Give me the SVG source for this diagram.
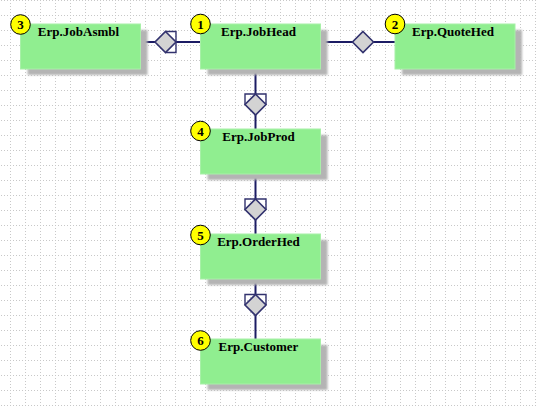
<svg xmlns="http://www.w3.org/2000/svg" width="536" height="407" viewBox="0 0 536 407">
<style>
.bg{fill:#ffffff}
.box{fill:#90ee90;stroke:#a8f0a8;stroke-width:1}
.shadow{fill:#b4b4b4;filter:url(#blur)}
.title{font-family:"Liberation Serif",serif;font-weight:bold;font-size:13px;fill:#000;text-anchor:middle}
.badge{fill:#ffff00;stroke:#000;stroke-width:1}
.num{font-family:"Liberation Serif",serif;font-weight:bold;font-size:13px;fill:#000;text-anchor:middle}
.line{stroke:#1c1c64;stroke-width:2;fill:none}
.dia{fill:#d3d3d3;stroke:#32326e;stroke-width:1.6}
.brk{fill:none;stroke:#32326e;stroke-width:1.4}
</style>
<defs>
<pattern id="grid" patternUnits="userSpaceOnUse" x="10" y="0" width="15" height="15">
<path d="M0 0.5H15M0.5 0V15" stroke="#c8c8c8" stroke-width="1" stroke-dasharray="1 2" fill="none"/>
</pattern>
<filter id="blur" x="-10%" y="-10%" width="120%" height="130%"><feGaussianBlur stdDeviation="1.2"/></filter>
</defs>
<rect class="bg" x="0" y="0" width="536" height="407"/>
<rect x="0" y="0" width="536" height="407" fill="url(#grid)"/>

<g id="connectors">
<line class="line" x1="141" y1="42" x2="200" y2="42"/>
<path class="brk" d="M165.5 31.5H176V52.5H165.5"/>
<path class="dia" d="M165.5 31.5L176 42L165.5 52.5L155 42Z"/>

<line class="line" x1="320" y1="42" x2="395" y2="42"/>
<path class="dia" d="M363 31.5L373.5 42L363 52.5L352.5 42Z"/>

<line class="line" x1="255.5" y1="69" x2="255.5" y2="129"/>
<path class="brk" d="M245 104.5V94H266V104.5"/>
<path class="dia" d="M255.5 94L266 104.5L255.5 115L245 104.5Z"/>

<line class="line" x1="255.5" y1="174" x2="255.5" y2="234"/>
<path class="brk" d="M245 209.5V199H266V209.5"/>
<path class="dia" d="M255.5 199L266 209.5L255.5 220L245 209.5Z"/>

<line class="line" x1="255.5" y1="279" x2="255.5" y2="339"/>
<path class="brk" d="M245 305V294.5H266V305"/>
<path class="dia" d="M255.5 294.5L266 305L255.5 315.5L245 305Z"/>
</g>

<g id="node3">
<rect class="shadow" x="27.5" y="30" width="120" height="45"/>
<rect class="box" x="20.5" y="24" width="120" height="45"/>
<text class="title" x="78.5" y="36">Erp.JobAsmbl</text>
<circle class="badge" cx="20.5" cy="24.5" r="9.8"/>
<text class="num" x="20.5" y="29">3</text>
</g>

<g id="node1">
<rect class="shadow" x="207.5" y="30" width="120" height="45"/>
<rect class="box" x="200.5" y="24" width="120" height="45"/>
<text class="title" x="258.5" y="36">Erp.JobHead</text>
<circle class="badge" cx="200.5" cy="24" r="9.8"/>
<text class="num" x="200.5" y="28.5">1</text>
</g>

<g id="node2">
<rect class="shadow" x="402" y="30" width="120" height="45"/>
<rect class="box" x="395" y="24" width="120" height="45"/>
<text class="title" x="453" y="36">Erp.QuoteHed</text>
<circle class="badge" cx="395" cy="24" r="9.8"/>
<text class="num" x="395" y="28.5">2</text>
</g>

<g id="node4">
<rect class="shadow" x="207.5" y="135" width="120" height="45"/>
<rect class="box" x="200.5" y="129" width="120" height="45"/>
<text class="title" x="258.5" y="141">Erp.JobProd</text>
<circle class="badge" cx="200.5" cy="131" r="9.8"/>
<text class="num" x="200.5" y="135.5">4</text>
</g>

<g id="node5">
<rect class="shadow" x="207.5" y="240" width="120" height="45"/>
<rect class="box" x="200.5" y="234" width="120" height="45"/>
<text class="title" x="258.5" y="246">Erp.OrderHed</text>
<circle class="badge" cx="200.5" cy="235" r="9.8"/>
<text class="num" x="200.5" y="239.5">5</text>
</g>

<g id="node6">
<rect class="shadow" x="207.5" y="345" width="120" height="45"/>
<rect class="box" x="200.5" y="339" width="120" height="45"/>
<text class="title" x="258.5" y="351">Erp.Customer</text>
<circle class="badge" cx="200.5" cy="340.5" r="9.8"/>
<text class="num" x="200.5" y="345">6</text>
</g>
</svg>
